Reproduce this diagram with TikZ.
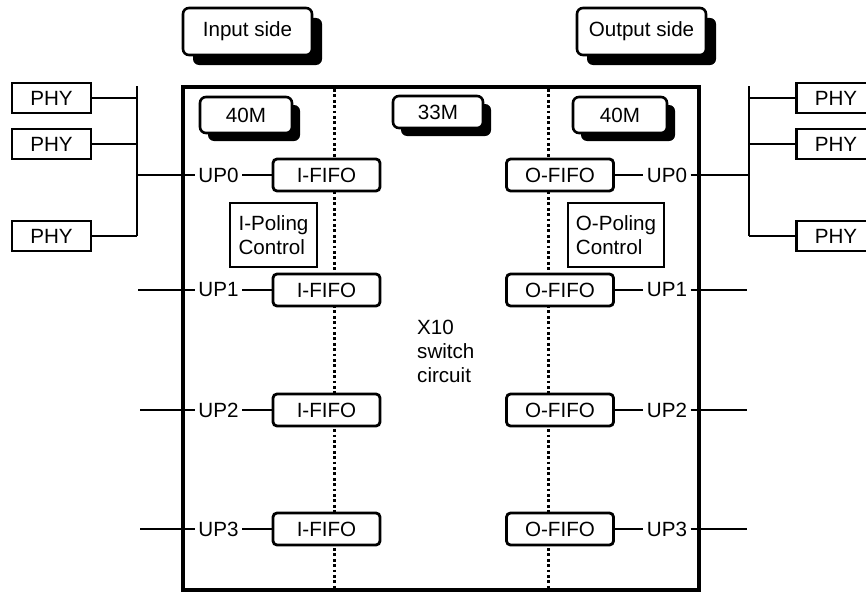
\documentclass[tikz,border=0pt]{standalone}
\usepackage{fontspec}
\setmainfont{Liberation Sans}
\usetikzlibrary{shadows}
\begin{document}
\begin{tikzpicture}[x=1pt,y=-1pt,
  every node/.style={font=\fontsize{20.6}{24}\selectfont, inner sep=0pt},
  conn/.style={line width=1.3pt},
  phybox/.style={draw, fill=white, line width=2.8pt, minimum width=79pt, minimum height=30pt},
  fifo/.style={draw, fill=white, rounded corners=4pt, line width=2.8pt, minimum width=107pt, minimum height=32pt},
  ctrl/.style={draw, fill=white, line width=2.8pt, minimum height=64pt, align=left},
  upl/.style={inner sep=3.5pt},
  shbox/.style={draw, fill=white, rounded corners=6pt, line width=2.6pt,
     drop shadow={shadow xshift=#1, shadow yshift=-#1, fill=black, opacity=1}},
  chipbox/.style={draw, line width=3.6pt, minimum width=516pt, minimum height=503pt},
  dotline/.style={line width=3pt, dash pattern=on 2.8pt off 2.6pt}
]
\useasboundingbox (0,0) rectangle (866,594);
\clip (0,0) rectangle (866,594);

% headers
\node[shbox=10pt, minimum width=129pt, minimum height=47pt] (inside) at (247.5,31.5) {Input side};
\node[shbox=10pt, minimum width=129pt, minimum height=47pt] (outside) at (641.5,31.5) {Output side};

% chip
\node[chipbox] (chip) at (441,338.5) {};
\draw[dotline] (334,89) -- (334,588);
\draw[dotline] (548,89) -- (548,588);

% clocks
\node[shbox=8pt, minimum width=92pt, minimum height=36pt] (m40l) at (246,115) {40M};
\node[shbox=8pt, minimum width=90pt, minimum height=32pt] (m33) at (438,112) {33M};
\node[shbox=8pt, minimum width=94pt, minimum height=36pt] (m40r) at (620,115) {40M};

% polling controls
\node[ctrl, minimum width=87pt] (ic) at (273.5,235) {I-Poling\\Control};
\node[ctrl, minimum width=96pt] (oc) at (616,235) {O-Poling\\Control};

% switch text
\node[anchor=west, align=left, inner sep=3pt] (sw) at (414,351) {X10\\switch\\circuit};

% FIFOs and port labels
\foreach \k/\y in {0/175,1/290,2/410,3/529}{
  \node[fifo] (i\k) at (326.5,\y) {I-FIFO};
  \node[fifo] (o\k) at (560,\y) {O-FIFO};
  \node[upl] (lu\k) at (218.5,\y) {UP\k};
  \node[upl] (ru\k) at (667,\y) {UP\k};
  \draw[conn] (lu\k.east) -- (i\k.west);
  \draw[conn] (o\k.east) -- (ru\k.west);
}

% left PHYs and bus
\node[phybox] (p1) at (51.5,98) {PHY};
\node[phybox] (p2) at (51.5,144) {PHY};
\node[phybox] (p3) at (51.5,236) {PHY};
\coordinate (lbt) at (137,86);
\coordinate (lbb) at (137,236);
\draw[conn] (lbt) -- (lbb);
\draw[conn] (p1.east) -- (p1.east -| lbt);
\draw[conn] (p2.east) -- (p2.east -| lbt);
\draw[conn] (p3.east) -- (lbb);
\draw[conn] (lu0.west -| lbt) -- (lu0.west);
\coordinate (l1) at (138,290);
\coordinate (l2) at (140,410);
\coordinate (l3) at (140,529);
\draw[conn] (l1) -- (lu1.west);
\draw[conn] (l2) -- (lu2.west);
\draw[conn] (l3) -- (lu3.west);

% right PHYs and bus
\node[phybox] (q1) at (836,98) {PHY};
\node[phybox] (q2) at (836,144) {PHY};
\node[phybox] (q3) at (836,236) {PHY};
\coordinate (rbt) at (749,86);
\coordinate (rbb) at (749,236);
\draw[conn] (rbt) -- (rbb);
\draw[conn] (q1.west) -- (q1.west -| rbt);
\draw[conn] (q2.west) -- (q2.west -| rbt);
\draw[conn] (q3.west) -- (rbb);
\draw[conn] (ru0.east) -- (ru0.east -| rbt);
\coordinate (r1) at (747,290);
\coordinate (r2) at (747,410);
\coordinate (r3) at (747,529);
\draw[conn] (ru1.east) -- (r1);
\draw[conn] (ru2.east) -- (r2);
\draw[conn] (ru3.east) -- (r3);
\end{tikzpicture}
\end{document}
